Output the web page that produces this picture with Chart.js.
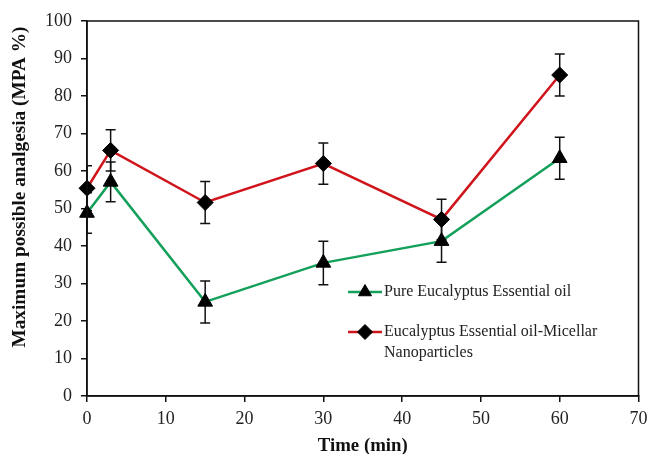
<!DOCTYPE html>
<html>
<head>
<meta charset="utf-8">
<script src="https://cdn.jsdelivr.net/npm/chart.js@4"></script>
<style>
  html, body { margin: 0; padding: 0; background: #fff; }
  #wrap { width: 648px; height: 454px; position: relative; }
</style>
</head>
<body>
<div id="wrap"><canvas id="c" width="648" height="454"></canvas></div>
<script>
const times = [0, 3, 15, 30, 45, 60];
const pureOil = [48.8, 57.1, 25.1, 35.5, 41.3, 63.4];
const pureOilErr = [5.4, 5.3, 5.6, 5.8, 5.6, 5.6];
const micellar = [55.4, 65.5, 51.6, 62.0, 47.1, 85.6];
const micellarErr = [6.0, 5.5, 5.6, 5.5, 5.4, 5.6];
const seriesNames = ["Pure Eucalyptus Essential oil", "Eucalyptus Essential oil-Micellar Nanoparticles"];
const xTitle = "Time (min)";
const yTitle = "Maximum possible analgesia (MPA %)";

const GREEN = '#14a05a';
const RED = '#d0141c';
const SERIF = '"Liberation Serif", "Times New Roman", serif';

function pts(vals) { return times.map((t, i) => ({ x: t, y: vals[i] })); }

const errorBars = {
  id: 'errorBars',
  beforeDatasetsDraw(chart) {
    const { ctx, chartArea, scales: { x, y } } = chart;
    const errs = [pureOilErr, micellarErr];
    const vals = [pureOil, micellar];
    ctx.save();
    ctx.beginPath();
    ctx.rect(chartArea.left, chartArea.top, chartArea.right - chartArea.left, chartArea.bottom - chartArea.top);
    ctx.clip();
    ctx.strokeStyle = '#111';
    ctx.lineWidth = 1.5;
    for (let d = 0; d < vals.length; d++) {
      for (let i = 0; i < times.length; i++) {
        const px = x.getPixelForValue(times[i]);
        const hi = y.getPixelForValue(vals[d][i] + errs[d][i]);
        const lo = y.getPixelForValue(vals[d][i] - errs[d][i]);
        ctx.beginPath();
        ctx.moveTo(px, hi); ctx.lineTo(px, lo);
        ctx.moveTo(px - 5, hi); ctx.lineTo(px + 5, hi);
        ctx.moveTo(px - 5, lo); ctx.lineTo(px + 5, lo);
        ctx.stroke();
      }
    }
    ctx.restore();
  },
  afterDraw(chart) {
    const { ctx, chartArea: a } = chart;
    ctx.save();
    ctx.strokeStyle = '#111';
    ctx.lineWidth = 1.5;
    ctx.strokeRect(a.left, a.top, a.right - a.left, a.bottom - a.top);
    // y axis title
    ctx.save();
    ctx.translate(20, 187);
    ctx.rotate(-Math.PI / 2);
    ctx.font = 'bold 19.3px ' + SERIF;
    ctx.fillStyle = '#111';
    ctx.textAlign = 'center';
    ctx.textBaseline = 'middle';
    ctx.fillText(yTitle, 0, 0);
    ctx.restore();
    // legend
    const lx0 = 348, lx1 = 382, ltx = 384;
    const rows = [
      { y: 292, color: GREEN, style: 'triangle', lines: [seriesNames[0]] },
      { y: 332, color: RED, style: 'rectRot', lines: ['Eucalyptus Essential oil-Micellar', 'Nanoparticles'] }
    ];
    ctx.font = '16px ' + SERIF;
    ctx.textBaseline = 'middle';
    rows.forEach(r => {
      ctx.strokeStyle = r.color;
      ctx.lineWidth = 2.5;
      ctx.beginPath(); ctx.moveTo(lx0, r.y); ctx.lineTo(lx1, r.y); ctx.stroke();
      ctx.fillStyle = '#000';
      ctx.strokeStyle = '#000';
      ctx.lineWidth = 1;
      Chart.helpers.drawPoint(ctx, { pointStyle: r.style, radius: 7.5, rotation: 0, borderWidth: 1 }, (lx0 + lx1) / 2, r.y);
      ctx.fillStyle = '#222';
      r.lines.forEach((t, k) => ctx.fillText(t, ltx, r.y + k * 21));
    });
    ctx.restore();
  }
};

new Chart(document.getElementById('c'), {
  type: 'line',
  data: {
    datasets: [
      {
        label: seriesNames[0], data: pts(pureOil),
        borderColor: GREEN, borderWidth: 2.5,
        pointStyle: 'triangle', pointRadius: 8.5,
        pointBackgroundColor: '#000', pointBorderColor: '#000', pointBorderWidth: 1,
        tension: 0, clip: false
      },
      {
        label: seriesNames[1], data: pts(micellar),
        borderColor: RED, borderWidth: 2.5,
        pointStyle: 'rectRot', pointRadius: 8,
        pointBackgroundColor: '#000', pointBorderColor: '#000', pointBorderWidth: 1,
        tension: 0, clip: false
      }
    ]
  },
  options: {
    responsive: false,
    animation: false,
    layout: { padding: { left: 0, right: 8, top: 21, bottom: 0 } },
    plugins: { legend: { display: false }, tooltip: { enabled: false } },
    scales: {
      x: {
        type: 'linear', min: 0, max: 70,
        afterFit(s) { s.height = 58; s.paddingRight = 0; s.paddingLeft = 0; },
        ticks: { stepSize: 10, color: '#222', font: { family: SERIF, size: 18 }, padding: 6 },
        grid: { drawOnChartArea: false, drawTicks: true, tickLength: 6, color: '#111', lineWidth: 1.5 },
        border: { display: true, color: '#111', width: 1.5 },
        title: { display: true, text: xTitle, color: '#111', font: { family: SERIF, size: 18.8, weight: 'bold' }, padding: { top: 0, bottom: -3 } }
      },
      y: {
        min: 0, max: 100,
        afterFit(s) { s.width = 87; s.paddingTop = 0; s.paddingBottom = 0; },
        ticks: { stepSize: 10, color: '#222', font: { family: SERIF, size: 18 }, padding: 9 },
        grid: { drawOnChartArea: false, drawTicks: true, tickLength: 6, color: '#111', lineWidth: 1.5 },
        border: { display: true, color: '#111', width: 1.5 },
        title: { display: false, text: yTitle }
      }
    }
  },
  plugins: [errorBars]
});
</script>
</body>
</html>
